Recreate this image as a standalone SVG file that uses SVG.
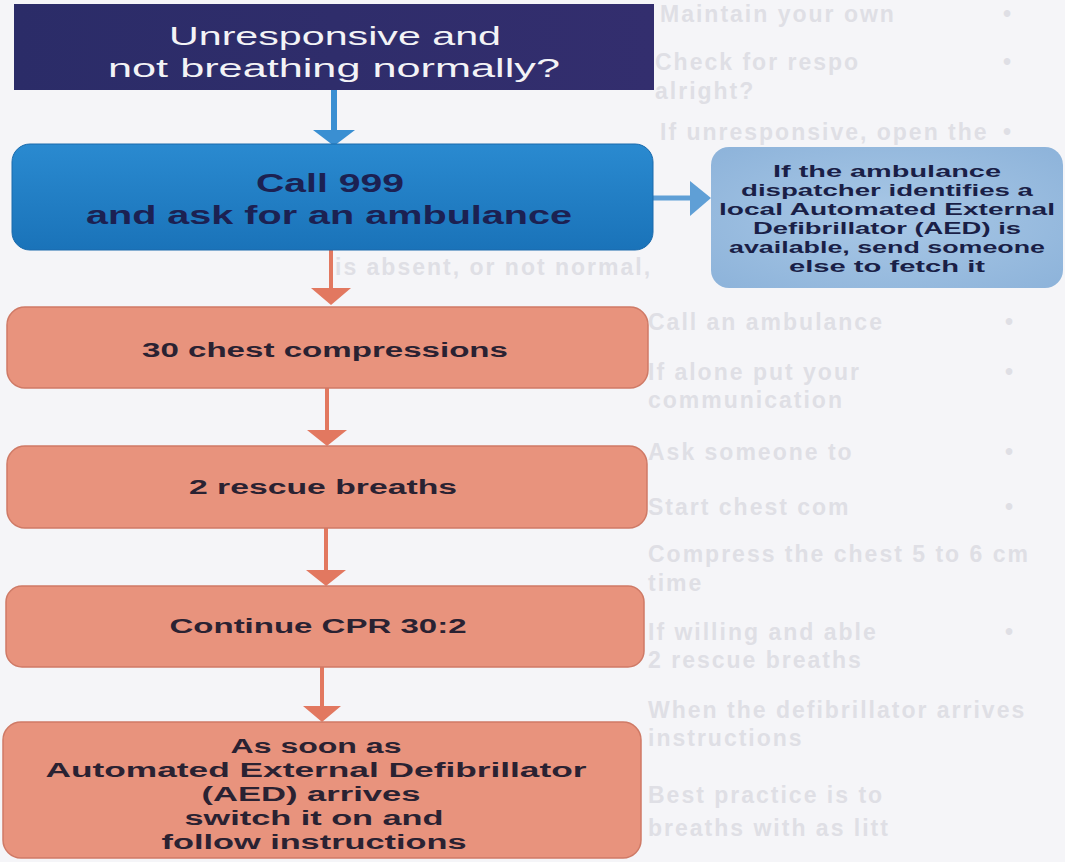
<svg xmlns="http://www.w3.org/2000/svg" width="1065" height="862" viewBox="0 0 1065 862">
<style>
  .bg { fill: #f5f5f8; }
  .ghost { font-family: "Liberation Sans", Arial, sans-serif; font-weight: bold; font-size: 23px; fill: #dfdfe5; letter-spacing: 2px; }
  .title { font-family: "Liberation Sans", Arial, sans-serif; font-size: 25px; fill: #f3f3f6; text-anchor: middle; }
  .call { font-family: "Liberation Sans", Arial, sans-serif; font-weight: bold; font-size: 25px; fill: #1c2152; text-anchor: middle; }
  .info { font-family: "Liberation Sans", Arial, sans-serif; font-weight: bold; font-size: 16px; fill: #1a1f47; text-anchor: middle; }
  .step { font-family: "Liberation Sans", Arial, sans-serif; font-weight: bold; font-size: 20px; fill: #2a2232; text-anchor: middle; }
  .salmon { fill: #e8937d; stroke: #cf7a66; stroke-width: 1.5; }
  .blue-line { stroke: #3a8fd2; stroke-width: 6; fill: none; }
  .blue-head { fill: #3a8fd2; }
  .side-line { stroke: #5f9fd6; stroke-width: 5; fill: none; }
  .side-head { fill: #5f9fd6; }
  .red-line { stroke: #e27860; stroke-width: 4; fill: none; }
  .red-head { fill: #e27860; }
</style>
<defs>
  <linearGradient id="callGrad" x1="0" y1="0" x2="0" y2="1">
    <stop offset="0" stop-color="#2a8ad0"/>
    <stop offset="1" stop-color="#1a73b9"/>
  </linearGradient>
  <radialGradient id="infoGrad" cx="0.5" cy="0.5" r="0.7">
    <stop offset="0" stop-color="#a9c8e6"/>
    <stop offset="1" stop-color="#8db3da"/>
  </radialGradient>
  <linearGradient id="topGrad" x1="0" y1="0" x2="1" y2="0">
    <stop offset="0" stop-color="#2b2c68"/>
    <stop offset="1" stop-color="#332e6e"/>
  </linearGradient>
</defs>

<rect class="bg" x="0" y="0" width="1065" height="862"/>

<g id="background-text">
  <text class="ghost" x="660" y="22">Maintain your own</text>
  <text class="ghost" x="1003" y="22">•</text>
  <text class="ghost" x="655" y="70">Check for respo</text>
  <text class="ghost" x="1003" y="70">•</text>
  <text class="ghost" x="655" y="99">alright?</text>
  <text class="ghost" x="660" y="140">If unresponsive, open the</text>
  <text class="ghost" x="1003" y="140">•</text>
  <text class="ghost" x="335" y="275">is absent, or not normal,</text>
  <text class="ghost" x="648" y="330">Call an ambulance</text>
  <text class="ghost" x="1005" y="330">•</text>
  <text class="ghost" x="648" y="380">If alone put your</text>
  <text class="ghost" x="1005" y="380">•</text>
  <text class="ghost" x="648" y="408">communication</text>
  <text class="ghost" x="648" y="460">Ask someone to</text>
  <text class="ghost" x="1005" y="460">•</text>
  <text class="ghost" x="648" y="515">Start chest com</text>
  <text class="ghost" x="1005" y="515">•</text>
  <text class="ghost" x="648" y="562">Compress the chest 5 to 6 cm</text>
  <text class="ghost" x="648" y="591">time</text>
  <text class="ghost" x="648" y="640">If willing and able</text>
  <text class="ghost" x="1005" y="640">•</text>
  <text class="ghost" x="648" y="668">2 rescue breaths</text>
  <text class="ghost" x="648" y="718">When the defibrillator arrives</text>
  <text class="ghost" x="648" y="746">instructions</text>
  <text class="ghost" x="648" y="803">Best practice is to</text>
  <text class="ghost" x="648" y="836">breaths with as litt</text>
</g>

<g id="connectors">
  <line class="blue-line" x1="334" y1="90" x2="334" y2="132"/>
  <polygon class="blue-head" points="313,130 355,130 334,146"/>
  <line class="side-line" x1="653" y1="198" x2="692" y2="198"/>
  <polygon class="side-head" points="690,181 711,198 690,216"/>
  <line class="red-line" x1="331" y1="250" x2="331" y2="290"/>
  <polygon class="red-head" points="311,288 351,288 331,305"/>
  <line class="red-line" x1="327" y1="388" x2="327" y2="432"/>
  <polygon class="red-head" points="307,430 347,430 327,446"/>
  <line class="red-line" x1="326" y1="528" x2="326" y2="572"/>
  <polygon class="red-head" points="306,570 346,570 326,586"/>
  <line class="red-line" x1="322" y1="667" x2="322" y2="708"/>
  <polygon class="red-head" points="303,706 341,706 322,722"/>
</g>

<g id="node-unresponsive">
  <rect x="14" y="4" width="640" height="86" fill="url(#topGrad)"/>
  <text class="title" x="335" y="45" textLength="332" lengthAdjust="spacingAndGlyphs">Unresponsive and</text>
  <text class="title" x="334" y="77" textLength="452" lengthAdjust="spacingAndGlyphs">not breathing normally?</text>
</g>

<g id="node-call999">
  <rect x="12" y="144" width="641" height="106" rx="18" fill="url(#callGrad)" stroke="#1a6aac" stroke-width="1"/>
  <text class="call" x="330" y="192" textLength="148" lengthAdjust="spacingAndGlyphs">Call 999</text>
  <text class="call" x="329" y="224" textLength="486" lengthAdjust="spacingAndGlyphs">and ask for an ambulance</text>
</g>

<g id="node-aed-info">
  <rect x="711" y="147" width="352" height="141" rx="18" fill="url(#infoGrad)"/>
  <text class="info" x="887" y="177" textLength="228" lengthAdjust="spacingAndGlyphs">If the ambulance</text>
  <text class="info" x="887" y="196" textLength="292" lengthAdjust="spacingAndGlyphs">dispatcher identifies a</text>
  <text class="info" x="887" y="215" textLength="336" lengthAdjust="spacingAndGlyphs">local Automated External</text>
  <text class="info" x="887" y="234" textLength="268" lengthAdjust="spacingAndGlyphs">Defibrillator (AED) is</text>
  <text class="info" x="887" y="253" textLength="316" lengthAdjust="spacingAndGlyphs">available, send someone</text>
  <text class="info" x="887" y="272" textLength="196" lengthAdjust="spacingAndGlyphs">else to fetch it</text>
</g>

<g id="node-compressions">
  <rect class="salmon" x="7" y="307" width="641" height="81" rx="18"/>
  <text class="step" x="325" y="357" textLength="366" lengthAdjust="spacingAndGlyphs">30 chest compressions</text>
</g>

<g id="node-breaths">
  <rect class="salmon" x="7" y="446" width="640" height="82" rx="18"/>
  <text class="step" x="323" y="494" textLength="268" lengthAdjust="spacingAndGlyphs">2 rescue breaths</text>
</g>

<g id="node-continue">
  <rect class="salmon" x="6" y="586" width="638" height="81" rx="16"/>
  <text class="step" x="318" y="633" textLength="297" lengthAdjust="spacingAndGlyphs">Continue CPR 30:2</text>
</g>

<g id="node-aed-arrives">
  <rect class="salmon" x="3" y="722" width="638" height="136" rx="18"/>
  <text class="step" x="316" y="753" textLength="171" lengthAdjust="spacingAndGlyphs">As soon as</text>
  <text class="step" x="316" y="777" textLength="541" lengthAdjust="spacingAndGlyphs">Automated External Defibrillator</text>
  <text class="step" x="311" y="801" textLength="219" lengthAdjust="spacingAndGlyphs">(AED) arrives</text>
  <text class="step" x="314" y="825" textLength="259" lengthAdjust="spacingAndGlyphs">switch it on and</text>
  <text class="step" x="314" y="849" textLength="305" lengthAdjust="spacingAndGlyphs">follow instructions</text>
</g>
</svg>
